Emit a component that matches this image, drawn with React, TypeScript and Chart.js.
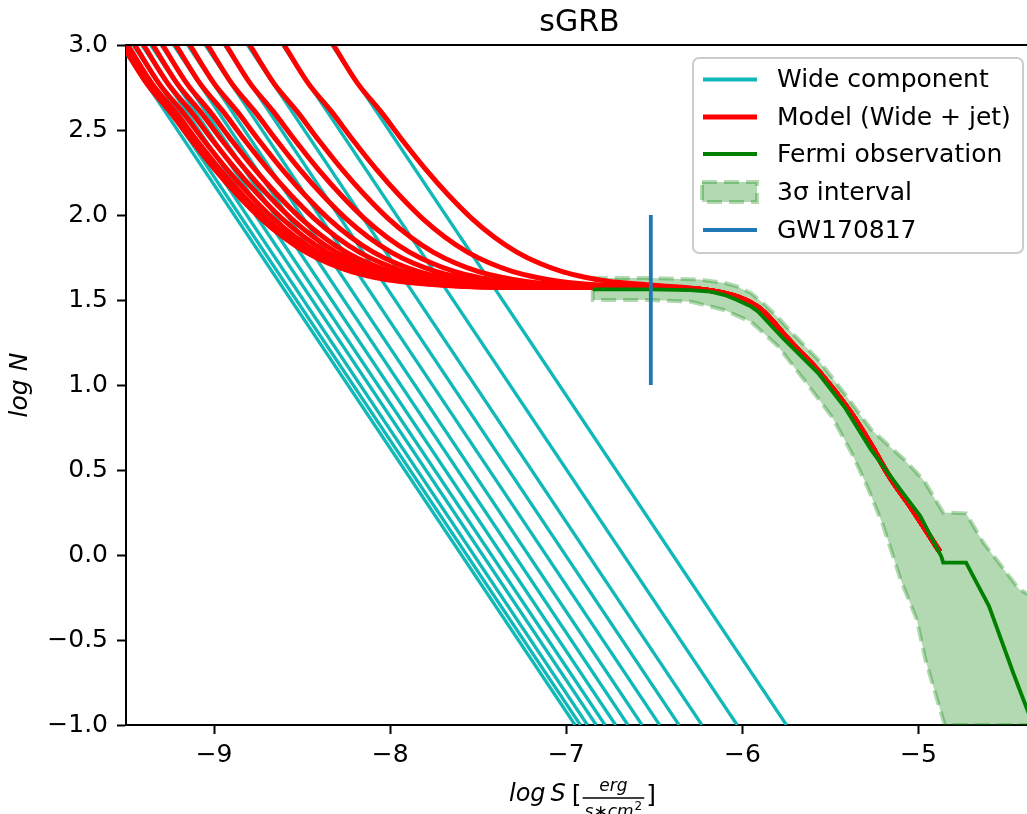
import React, { useEffect, useRef } from 'react';
import { Chart, registerables } from 'chart.js';

Chart.register(...registerables);

const FONT = '"DejaVu Sans", "Liberation Sans", sans-serif';

// Axis ticks
const xTickValues = [-9, -8, -7, -6, -5];
const yTickValues = [-1, -0.5, 0, 0.5, 1, 1.5, 2, 2.5, 3];
const xMin = -9.5;
const xMax = -4.35;
const yMin = -1;
const yMax = 3;

// Wide component: straight lines, log S where log N = 3.0 and where log N = -1.0
const wideTopN = 3.0;
const wideBottomN = -1.0;
const wideTopS = [-9.53, -9.5, -9.46, -9.41, -9.36, -9.3, -9.23, -9.15, -9.05, -8.94, -8.81, -8.61, -8.33];
const wideBottomS = [-6.95, -6.92, -6.88, -6.83, -6.78, -6.72, -6.65, -6.57, -6.47, -6.36, -6.23, -6.03, -5.75];

// Model (wide + jet): rising part of each curve, log N levels shared, log S per curve
const modelRiseN = [3.0, 2.773, 2.611, 2.434, 2.267, 2.116, 1.982, 1.871, 1.782, 1.716, 1.667, 1.634, 1.611, 1.587, 1.574];
const modelCurve1S = [-9.52, -9.382, -9.253, -9.124, -8.995, -8.866, -8.737, -8.608, -8.479, -8.35, -8.221, -8.092, -7.963, -7.705, -7.318];
const modelCurve2S = [-9.49, -9.352, -9.223, -9.094, -8.965, -8.836, -8.707, -8.578, -8.449, -8.32, -8.191, -8.062, -7.933, -7.675, -7.288];
const modelCurve3S = [-9.45, -9.312, -9.183, -9.054, -8.925, -8.796, -8.667, -8.538, -8.409, -8.28, -8.151, -8.022, -7.893, -7.635, -7.248];
const modelCurve4S = [-9.4, -9.262, -9.133, -9.004, -8.875, -8.746, -8.617, -8.488, -8.359, -8.23, -8.101, -7.972, -7.843, -7.585, -7.198];
const modelCurve5S = [-9.347, -9.209, -9.08, -8.951, -8.822, -8.693, -8.564, -8.435, -8.306, -8.177, -8.048, -7.919, -7.79, -7.532, -7.145];
const modelCurve6S = [-9.292, -9.154, -9.025, -8.896, -8.767, -8.638, -8.509, -8.38, -8.251, -8.122, -7.993, -7.864, -7.735, -7.477, -7.09];
const modelCurve7S = [-9.217, -9.079, -8.95, -8.821, -8.692, -8.563, -8.434, -8.305, -8.176, -8.047, -7.918, -7.789, -7.66, -7.402, -7.015];
const modelCurve8S = [-9.137, -8.999, -8.87, -8.741, -8.612, -8.483, -8.354, -8.225, -8.096, -7.967, -7.838, -7.709, -7.58, -7.322, -6.935];
const modelCurve9S = [-9.037, -8.899, -8.77, -8.641, -8.512, -8.383, -8.254, -8.125, -7.996, -7.867, -7.738, -7.609, -7.48, -7.222];
const modelCurve10S = [-8.932, -8.794, -8.665, -8.536, -8.407, -8.278, -8.149, -8.02, -7.891, -7.762, -7.633, -7.504, -7.375, -7.117, -6.73];
const modelCurve11S = [-8.797, -8.659, -8.53, -8.401, -8.272, -8.143, -8.014, -7.885, -7.756, -7.627, -7.498, -7.369, -7.24, -6.982, -6.595];
const modelCurve12S = [-8.602, -8.464, -8.335, -8.206, -8.077, -7.948, -7.819, -7.69, -7.561, -7.432, -7.303, -7.174, -7.045, -6.787, -6.4];
const modelCurve13S = [-8.322, -8.184, -8.055, -7.926, -7.797, -7.668, -7.539, -7.41, -7.281, -7.152, -7.023, -6.894, -6.765, -6.507];
const modelCurves = [
  modelCurve1S, modelCurve2S, modelCurve3S, modelCurve4S, modelCurve5S, modelCurve6S, modelCurve7S,
  modelCurve8S, modelCurve9S, modelCurve10S, modelCurve11S, modelCurve12S, modelCurve13S,
];
// Shared tail of the model (plateau + jet decline)
const modelTailS = [-6.85, -6.5, -6.2, -6.02, -5.89, -5.74, -5.55, -5.4, -5.27, -5.17, -5.03, -4.88];
const modelTailN = [1.575, 1.572, 1.558, 1.515, 1.44, 1.27, 1.06, 0.86, 0.65, 0.47, 0.26, 0.02];

// Fermi observation
const fermiS = [-6.85, -6.52, -6.3, -6.18, -6.1, -6.03, -5.95, -5.91, -5.84, -5.76, -5.57, -5.42, -5.27, -5.1, -4.99, -4.87, -4.86, -4.73, -4.6, -4.46, -4.39, -4.33];
const fermiN = [1.563, 1.563, 1.558, 1.549, 1.529, 1.5, 1.461, 1.431, 1.353, 1.265, 1.07, 0.87, 0.62, 0.38, 0.23, -0.01, -0.045, -0.045, -0.3, -0.7, -0.89, -1.05];

// 3 sigma interval
const sigmaUpperS = [-6.85, -6.52, -6.24, -6.1, -6.03, -5.95, -5.88, -5.8, -5.73, -5.57, -5.42, -5.27, -5.08, -4.97, -4.86, -4.73, -4.63, -4.54, -4.43, -4.38, -4.3];
const sigmaUpperN = [1.63, 1.63, 1.62, 1.6, 1.58, 1.54, 1.48, 1.4, 1.32, 1.15, 0.95, 0.74, 0.56, 0.44, 0.25, 0.245, 0.07, -0.05, -0.2, -0.23, -0.28];
const sigmaLowerS = [-6.85, -6.52, -6.29, -6.1, -5.95, -5.8, -5.65, -5.49, -5.38, -5.29, -5.2, -5.1, -5.01, -4.96, -4.9, -4.86, -4.85, -4.3];
const sigmaLowerN = [1.5, 1.5, 1.49, 1.44, 1.37, 1.23, 1.03, 0.81, 0.6, 0.4, 0.17, -0.15, -0.38, -0.62, -0.83, -0.97, -1.0, -1.0];

// GW170817
const gwS = [-6.52, -6.52];
const gwN = [1.0, 2.0];

const legendLabels = ['Wide component', 'Model (Wide + jet)', 'Fermi observation', '3σ interval', 'GW170817'];

const CYAN = '#10b8b8';
const RED = '#ff0000';
const GREEN = '#008000';
const FILL = 'rgba(0,128,0,0.3)';
const BLUE = '#1f77b4';

const fmt = (v: number, digits: number) => {
  const s = Math.abs(v).toFixed(digits);
  return v < 0 ? '\u2212' + s : s;
};

function buildDatasets() {
  const ds: any[] = [];
  const base = { pointRadius: 0, pointHoverRadius: 0, clip: 0, fill: false };

  // 3 sigma interval polygon
  const poly: { x: number; y: number }[] = [];
  sigmaUpperS.forEach((s, i) => poly.push({ x: s, y: sigmaUpperN[i] }));
  for (let i = sigmaLowerS.length - 1; i >= 0; i--) poly.push({ x: sigmaLowerS[i], y: sigmaLowerN[i] });
  poly.push({ x: sigmaUpperS[0], y: sigmaUpperN[0] });
  ds.push({
    ...base,
    label: '3σ interval',
    data: poly,
    fill: 'shape',
    backgroundColor: FILL,
    borderColor: FILL,
    borderWidth: 4,
    borderDash: [15, 7],
    tension: 0,
    order: 5,
  });

  // wide component lines
  wideTopS.forEach((s, i) => {
    ds.push({
      ...base,
      label: 'Wide component',
      data: [{ x: s, y: wideTopN }, { x: wideBottomS[i], y: wideBottomN }],
      borderColor: CYAN,
      borderWidth: 3.3,
      tension: 0,
      order: 4,
    });
  });

  // model curves
  modelCurves.forEach((curve) => {
    const pts = curve.map((s, i) => ({ x: s, y: modelRiseN[i] }));
    const last = curve[curve.length - 1];
    modelTailS.forEach((s, i) => {
      if (s > last + 0.05) pts.push({ x: s, y: modelTailN[i] });
    });
    ds.push({
      ...base,
      label: 'Model (Wide + jet)',
      data: pts,
      borderColor: RED,
      borderWidth: 5,
      cubicInterpolationMode: 'monotone',
      order: 3,
    });
  });

  // fermi
  ds.push({
    ...base,
    label: 'Fermi observation',
    data: fermiS.map((s, i) => ({ x: s, y: fermiN[i] })),
    borderColor: GREEN,
    borderWidth: 3.8,
    tension: 0,
    order: 2,
  });

  // GW170817
  ds.push({
    ...base,
    label: 'GW170817',
    data: gwS.map((s, i) => ({ x: s, y: gwN[i] })),
    borderColor: BLUE,
    borderWidth: 3.8,
    borderCapStyle: 'butt',
    tension: 0,
    order: 1,
  });
  return ds;
}

const decorPlugin = {
  id: 'decor',
  afterDraw(chart: any) {
    const { ctx, chartArea: a } = chart;
    ctx.save();
    // top and right spines
    ctx.strokeStyle = '#000';
    ctx.lineWidth = 2;
    ctx.setLineDash([]);
    ctx.beginPath();
    ctx.moveTo(a.left - 1, a.top);
    ctx.lineTo(a.right, a.top);
    ctx.lineTo(a.right, a.bottom);
    ctx.stroke();

    // legend box
    const bx = a.right - 340;
    const by = a.top + 13;
    const bw = 330;
    const bh = 195;
    const r = 6;
    ctx.beginPath();
    ctx.moveTo(bx + r, by);
    ctx.lineTo(bx + bw - r, by);
    ctx.arcTo(bx + bw, by, bx + bw, by + r, r);
    ctx.lineTo(bx + bw, by + bh - r);
    ctx.arcTo(bx + bw, by + bh, bx + bw - r, by + bh, r);
    ctx.lineTo(bx + r, by + bh);
    ctx.arcTo(bx, by + bh, bx, by + bh - r, r);
    ctx.lineTo(bx, by + r);
    ctx.arcTo(bx, by, bx + r, by, r);
    ctx.closePath();
    ctx.fillStyle = 'rgba(255,255,255,0.8)';
    ctx.fill();
    ctx.strokeStyle = '#cccccc';
    ctx.lineWidth = 2;
    ctx.stroke();

    const rowY = [by + 21.5, by + 59, by + 96, by + 134, by + 172];
    const hx0 = bx + 10;
    const hx1 = bx + 64;
    const tx = bx + 84;
    const handleColors = [CYAN, RED, GREEN, null, BLUE];
    const handleWidths = [4, 5, 4, 0, 4];
    legendLabels.forEach((label, i) => {
      const y = rowY[i];
      if (handleColors[i]) {
        ctx.strokeStyle = handleColors[i];
        ctx.lineWidth = handleWidths[i];
        ctx.setLineDash([]);
        ctx.beginPath();
        ctx.moveTo(hx0, y);
        ctx.lineTo(hx1, y);
        ctx.stroke();
      } else {
        ctx.fillStyle = FILL;
        ctx.fillRect(hx0 - 1, y - 10, hx1 - hx0 + 1, 20);
        ctx.strokeStyle = FILL;
        ctx.lineWidth = 4;
        ctx.setLineDash([15, 7]);
        ctx.strokeRect(hx0 - 1, y - 10, hx1 - hx0 + 1, 20);
        ctx.setLineDash([]);
      }
      ctx.fillStyle = '#000';
      ctx.font = `25px ${FONT}`;
      ctx.textAlign = 'left';
      ctx.textBaseline = 'middle';
      ctx.fillText(label, tx, y + 1);
    });

    // x axis label: log S [erg / (s*cm^2)]
    ctx.fillStyle = '#000';
    ctx.textBaseline = 'alphabetic';
    ctx.textAlign = 'left';
    const itBig = `italic 24px ${FONT}`;
    const up = `25px ${FONT}`;
    const itSmall = `italic 17px ${FONT}`;
    ctx.font = itBig;
    const wLog = ctx.measureText('log').width;
    const wS = ctx.measureText('S').width;
    ctx.font = up;
    const wBr = ctx.measureText('[').width;
    const wBr2 = ctx.measureText(']').width;
    ctx.font = itSmall;
    const wNum = ctx.measureText('erg').width;
    const wDenMain = ctx.measureText('s\u2217cm').width;
    ctx.font = `12px ${FONT}`;
    const wSup = ctx.measureText('2').width;
    const wDen = wDenMain + wSup + 1;
    const wFrac = Math.max(wNum, wDen) + 4;
    const total = wLog + 5 + wS + 6 + wBr + 1 + wFrac + 2 + wBr2;
    let x = (a.left + a.right) / 2 + 3 - total / 2;
    const base = a.bottom + 76;
    ctx.font = itBig;
    ctx.fillText('log', x, base);
    x += wLog + 5;
    ctx.fillText('S', x, base);
    x += wS + 6;
    ctx.font = up;
    ctx.fillText('[', x, base + 2);
    x += wBr + 1;
    const barY = a.bottom + 73;
    ctx.fillRect(x, barY - 0.75, wFrac, 1.5);
    ctx.font = itSmall;
    ctx.fillText('erg', x + (wFrac - wNum) / 2, barY - 7);
    const dx = x + (wFrac - wDen) / 2;
    ctx.fillText('s\u2217cm', dx, barY + 19);
    ctx.font = `12px ${FONT}`;
    ctx.fillText('2', dx + wDenMain + 1, barY + 12);
    x += wFrac + 2;
    ctx.font = up;
    ctx.fillText(']', x, base + 2);
    ctx.restore();
  },
};

export default function App() {
  const ref = useRef<HTMLCanvasElement>(null);
  useEffect(() => {
    const canvas = ref.current;
    if (!canvas) return;
    const chart = new Chart(canvas, {
      type: 'line',
      data: { datasets: buildDatasets() },
      options: {
        responsive: false,
        animation: false,
        devicePixelRatio: 1,
        events: [],
        layout: { padding: 0 },
        plugins: {
          legend: { display: false },
          tooltip: { enabled: false },
          title: {
            display: true,
            text: 'sGRB',
            fullSize: false,
            color: '#000',
            font: { family: FONT, size: 30, weight: 'normal', lineHeight: 1 },
            padding: { top: 0, bottom: 7 },
          },
        },
        elements: { line: { capBezierPoints: false } },
        scales: {
          x: {
            type: 'linear',
            min: xMin,
            max: xMax,
            afterBuildTicks: (s: any) => {
              s.ticks = xTickValues.map((v) => ({ value: v }));
            },
            afterFit: (s: any) => {
              s.height = 89;
            },
            ticks: {
              color: '#000',
              font: { family: FONT, size: 25 },
              padding: 6,
              maxRotation: 0,
              autoSkip: false,
              callback: (v: any) => fmt(Number(v), 0),
            },
            grid: { display: true, drawOnChartArea: false, drawTicks: true, tickLength: 9, tickWidth: 2, tickColor: '#000' },
            border: { display: true, color: '#000', width: 2 },
          },
          y: {
            type: 'linear',
            min: yMin,
            max: yMax,
            afterBuildTicks: (s: any) => {
              s.ticks = yTickValues.map((v) => ({ value: v }));
            },
            afterFit: (s: any) => {
              s.width = 118;
            },
            title: {
              display: true,
              text: 'log N',
              color: '#000',
              font: { family: FONT, size: 25, style: 'italic', lineHeight: 1 },
              padding: { top: 0, bottom: 0 },
            },
            ticks: {
              color: '#000',
              font: { family: FONT, size: 25 },
              padding: 9,
              autoSkip: false,
              callback: (v: any) => fmt(Number(v), 1),
            },
            grid: { display: true, drawOnChartArea: false, drawTicks: true, tickLength: 9, tickWidth: 2, tickColor: '#000' },
            border: { display: true, color: '#000', width: 2 },
          },
        },
      } as any,
      plugins: [decorPlugin],
    });
    return () => chart.destroy();
  }, []);

  return (
    <div
      style={{
        position: 'fixed',
        left: 8,
        top: 8,
        width: 1019,
        height: 806,
        overflow: 'hidden',
        background: '#fff',
      }}
    >
      <canvas ref={ref} width={1025} height={806} style={{ display: 'block', width: 1025, height: 806 }} />
    </div>
  );
}
